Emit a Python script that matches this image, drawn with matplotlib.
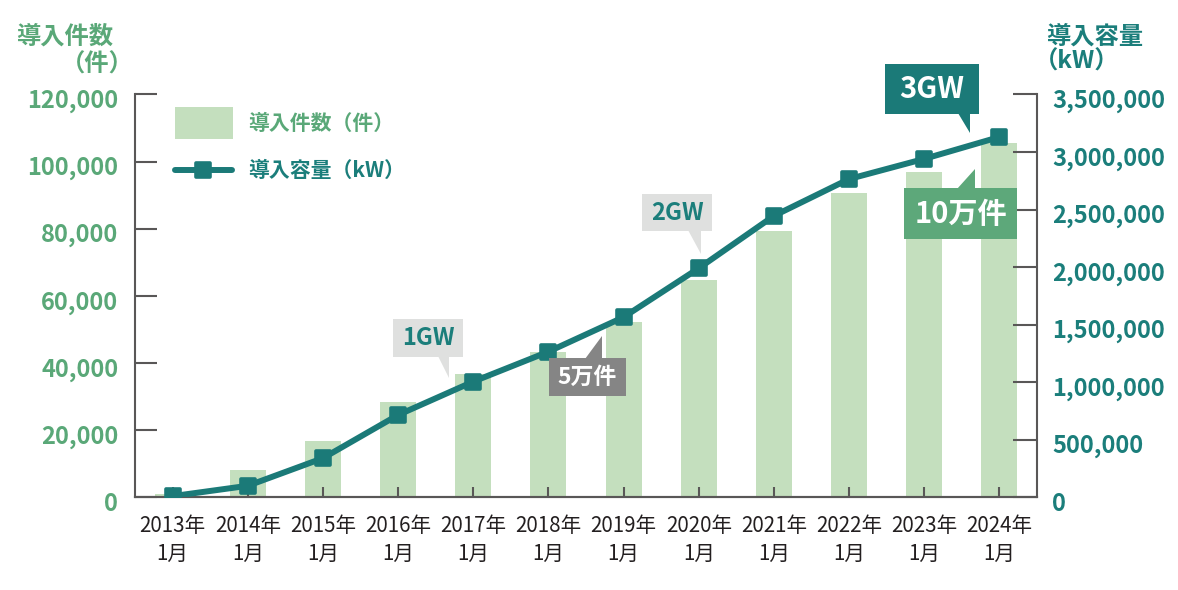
import matplotlib
matplotlib.use('Agg')
import matplotlib.pyplot as plt
import matplotlib.transforms as mtransforms
from matplotlib.patches import Polygon, Rectangle
from matplotlib.lines import Line2D
from matplotlib.markers import MarkerStyle
from matplotlib.ticker import FuncFormatter

plt.rcParams['font.family'] = ['Noto Sans CJK JP', 'DejaVu Sans']

# --- data ---
years = ['2013年\n1月', '2014年\n1月', '2015年\n1月', '2016年\n1月', '2017年\n1月', '2018年\n1月',
         '2019年\n1月', '2020年\n1月', '2021年\n1月', '2022年\n1月', '2023年\n1月', '2024年\n1月']
counts = [1000, 8000, 16800, 28500, 36700, 43400, 52200, 64700, 79400, 90600, 97000, 105500]
capacity_kw = [10000, 100000, 340000, 715000, 1005000, 1265000, 1565000, 1990000,
               2445000, 2765000, 2940000, 3130000]
count_ticks = list(range(0, 120001, 20000))
cap_ticks = list(range(0, 3500001, 500000))

BAR = '#c4dfbe'; TEAL = '#1b7a78'; GREEN = '#5aa878'; TEALTXT = '#1b7e7b'
SPINE = '#595757'; DARK = '#231f20'

W, H = 1178, 590
fig = plt.figure(figsize=(W/100, H/100), dpi=100)
# pixel coords, origin top-left
PX = mtransforms.Affine2D().scale(1/W, -1/H).translate(0, 1) + fig.transFigure

ax = fig.add_axes([135/W, 1-497.3/H, (1037-135)/W, (497.3-94.4)/H])
ax2 = ax.twinx()
xs = list(range(len(years)))

ax.bar(xs, counts, width=0.48, color=BAR, zorder=1)
sq = MarkerStyle('s', joinstyle='round')
ax2.plot(xs, capacity_kw, color=TEAL, lw=4.3, marker=sq, ms=10, mew=2.6, mec=TEAL, mfc=TEAL,
         solid_joinstyle='round', zorder=3)

ax.set_xlim(-0.5, len(years)-0.5)
ax.set_ylim(0, 120000); ax2.set_ylim(0, 3500000)
ax.set_yticks(count_ticks); ax2.set_yticks(cap_ticks)
fmt = FuncFormatter(lambda v, _: f'{v:,.0f}')
ax.yaxis.set_major_formatter(fmt); ax2.yaxis.set_major_formatter(fmt)
ax.set_xticks(xs, years)

for a in (ax, ax2):
    a.spines['top'].set_visible(False)
    for s in a.spines.values():
        s.set_color(SPINE); s.set_linewidth(1.5)
ax.spines['right'].set_visible(False)
ax2.spines['left'].set_visible(False)

ax.tick_params(axis='y', direction='in', length=16, width=1.5, color=SPINE, pad=12,
               labelsize=17, labelcolor=GREEN)
ax2.tick_params(axis='y', direction='in', length=17, width=1.5, color=SPINE, pad=11,
                labelsize=17, labelcolor=TEALTXT)
ax.tick_params(axis='x', direction='in', length=7, width=1.5, color=SPINE, pad=13,
               labelsize=14.8, labelcolor=DARK)
down = mtransforms.ScaledTranslation(0, -4/100, fig.dpi_scale_trans)
for t in ax.get_yticklabels() + ax2.get_yticklabels():
    t.set_fontweight('bold')
    t.set_transform(t.get_transform() + down)
for t in ax.get_xticklabels():
    t.set_linespacing(1.3)

# axis titles
fig.text(65, 37, '導入件数', transform=PX, ha='center', va='center', fontsize=17.5,
         fontweight='bold', color=GREEN)
fig.text(134, 65, '（件）', transform=PX, ha='right', va='center', fontsize=17.5,
         fontweight='bold', color=GREEN)
fig.text(1046, 37, '導入容量', transform=PX, ha='left', va='center', fontsize=17.5,
         fontweight='bold', color=TEALTXT)
fig.text(1034, 62, '（kW）', transform=PX, ha='left', va='center', fontsize=17.5,
         fontweight='bold', color=TEALTXT)

# legend
fig.add_artist(Rectangle((175, 107), 58, 32, transform=PX, fc=BAR, ec='none'))
fig.add_artist(Line2D([175, 232], [170, 170], transform=PX, color=TEAL, lw=4.3,
                      solid_capstyle='round'))
fig.add_artist(Line2D([203], [170], transform=PX, marker=sq, ms=10, mew=2.6, color=TEAL))
fig.text(248, 123, '導入件数（件）', transform=PX, ha='left', va='center', fontsize=15,
         fontweight='bold', color=GREEN)
fig.text(248, 170, '導入容量（kW）', transform=PX, ha='left', va='center', fontsize=15,
         fontweight='bold', color=TEALTXT)


def callout(text, box, tri, fc, tc, fs):
    x0, y0, x1, y1 = box
    fig.add_artist(Rectangle((x0, y0), x1-x0, y1-y0, transform=PX, fc=fc, ec='none', zorder=5))
    fig.add_artist(Polygon(tri, closed=True, transform=PX, fc=fc, ec='none', zorder=5))
    fig.text((x0+x1)/2, (y0+y1)/2, text, transform=PX, ha='center', va='center',
             fontsize=fs, fontweight='bold', color=tc, zorder=6)


callout('1GW', (393, 319, 463, 357), [(438, 356), (449, 356), (449, 378)], '#dfe0df', TEALTXT, 17)
callout('2GW', (642, 194, 712, 231), [(688, 230), (701, 230), (701, 254)], '#dfe0df', TEALTXT, 17)
callout('5万件', (549, 358, 626, 396), [(585, 359), (602, 359), (602, 336)], '#858585', 'white', 16.5)
callout('3GW', (885, 64, 979, 114), [(958, 113), (970, 113), (970, 133)], TEAL, 'white', 21)
callout('10万件', (904, 188, 1017, 239), [(957, 189), (975, 189), (975, 169)], '#5da87a', 'white', 21)

fig.savefig('out.png', dpi=100)
